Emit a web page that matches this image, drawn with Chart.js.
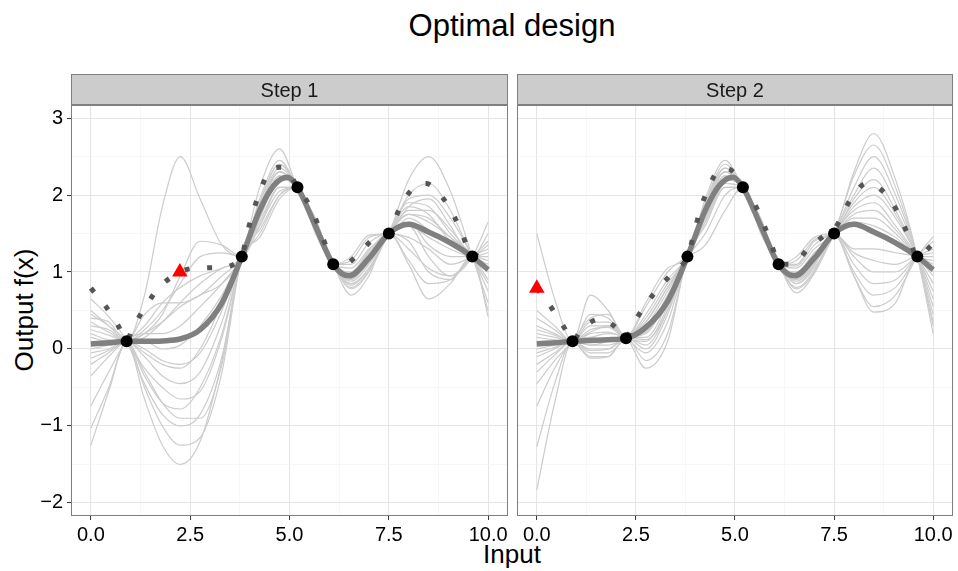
<!DOCTYPE html>
<html>
<head>
<meta charset="utf-8">
<script src="https://cdn.jsdelivr.net/npm/chart.js@4.4.1/dist/chart.umd.min.js"></script>
<style>
  html, body { margin: 0; padding: 0; background: #fff; }
  body { width: 958px; height: 571px; position: relative; overflow: hidden;
         font-family: "Liberation Sans", Arial, sans-serif; color: #000; }
  canvas { position: absolute; top: 70px; }
  #c1 { left: 0; }
  #c2 { left: 500px; }
  .lbl { position: absolute; white-space: nowrap; line-height: 1; }
  #title { top: 10px; left: 312px; width: 400px; text-align: center; font-size: 31px; }
  #xtitle { top: 541px; left: 412px; width: 200px; text-align: center; font-size: 26px; }
  #ytitle { top: 297px; left: -76px; width: 200px; text-align: center; font-size: 26px;
            transform: rotate(-90deg); }
</style>
</head>
<body>
<div class="lbl" id="title">Optimal design</div>
<div class="lbl" id="xtitle">Input</div>
<div class="lbl" id="ytitle">Output f(x)</div>
<canvas id="c1" width="540" height="500"></canvas>
<canvas id="c2" width="480" height="500"></canvas>
<script>
const X_GRID = [0, 0.45, 0.9, 1.35, 1.8, 2.25, 2.75, 3.3, 3.8, 4.25, 4.75, 5.2,
                5.65, 6.1, 6.55, 7.0, 7.5, 8.0, 8.5, 9.05, 9.6, 10];

// Step 1 posterior samples (grey lines)
const SAMPLES_1 = [
  [0.35, 0.22, 0.1, 0.7, 1.85, 2.5, 1.95, 1.35, 1.2, 1.7, 2.2, 2.1, 1.6, 1.1, 0.95, 1.2, 1.5, 1.75, 1.7, 1.45, 1.2, 1.1],
  [0.5, 0.3, 0.1, 0.2, 0.45, 0.95, 1.4, 1.35, 1.2, 1.9, 2.4, 2.1, 1.55, 1.1, 0.85, 1.05, 1.5, 2.0, 2.15, 1.8, 1.2, 0.85],
  [0.15, 0.1, 0.1, 0.25, 0.5, 0.85, 1.2, 1.25, 1.2, 1.6, 2.05, 2.1, 1.65, 1.1, 1.05, 1.3, 1.5, 1.85, 1.95, 1.6, 1.2, 1.5],
  [-0.12, -0.02, 0.1, 0.3, 0.6, 0.8, 0.95, 1.05, 1.2, 1.75, 2.25, 2.1, 1.6, 1.1, 0.7, 0.95, 1.5, 1.45, 1.3, 1.1, 1.2, 1.35],
  [0.25, 0.18, 0.1, 0.2, 0.35, 0.55, 0.7, 0.85, 1.2, 2.1, 2.6, 2.1, 1.7, 1.1, 0.9, 1.15, 1.5, 2.2, 2.5, 2.05, 1.2, 0.6],
  [-0.74, -0.3, 0.1, 0.2, 0.2, 0.3, 0.55, 0.85, 1.2, 1.85, 2.3, 2.1, 1.6, 1.1, 1.15, 1.45, 1.5, 1.6, 1.45, 1.3, 1.2, 1.25],
  [0.05, 0.05, 0.1, 0.1, 0.0, 0.05, 0.3, 0.7, 1.2, 1.65, 2.1, 2.1, 1.55, 1.1, 0.78, 1.0, 1.5, 1.9, 1.85, 1.5, 1.2, 1.0],
  [0.4, 0.35, 0.1, 0.45, 0.6, 0.6, 0.7, 0.95, 1.2, 1.8, 2.3, 2.1, 1.65, 1.1, 1.0, 1.25, 1.5, 1.3, 1.05, 0.95, 1.2, 1.4],
  [-0.05, 0.0, 0.1, -0.05, -0.2, -0.25, 0.0, 0.6, 1.2, 1.5, 2.0, 2.1, 1.55, 1.1, 0.88, 1.1, 1.5, 1.95, 2.0, 1.7, 1.2, 0.75],
  [0.3, 0.25, 0.1, 0.15, 0.35, 0.6, 0.85, 1.05, 1.2, 1.95, 2.45, 2.1, 1.7, 1.1, 0.92, 1.15, 1.5, 1.6, 1.2, 0.95, 1.2, 1.65],
  [-1.25, -0.55, 0.1, -0.65, -1.25, -1.5, -1.2, -0.15, 1.2, 1.45, 1.95, 2.1, 1.5, 1.1, 0.95, 1.2, 1.5, 1.8, 1.8, 1.55, 1.2, 1.0],
  [-1.03, -0.5, 0.1, -0.5, -1.0, -1.25, -1.15, -0.3, 1.2, 1.55, 2.0, 2.1, 1.55, 1.1, 1.0, 1.28, 1.5, 1.15, 0.85, 0.9, 1.2, 1.3],
  [0.65, 0.42, 0.1, -0.45, -0.85, -1.0, -0.85, -0.1, 1.2, 1.7, 2.2, 2.1, 1.6, 1.1, 0.83, 1.05, 1.5, 1.85, 1.75, 1.4, 1.2, 0.5],
  [-0.35, -0.1, 0.1, -0.3, -0.7, -0.9, -0.9, -0.2, 1.2, 1.6, 2.1, 2.1, 1.6, 1.1, 1.1, 1.38, 1.5, 1.1, 0.65, 0.85, 1.2, 1.2],
  [0.2, 0.12, 0.1, -0.35, -0.7, -0.78, -0.5, 0.2, 1.2, 1.85, 2.35, 2.1, 1.65, 1.1, 1.2, 1.48, 1.5, 1.7, 1.55, 1.35, 1.2, 1.05],
  [0.45, 0.3, 0.1, -0.25, -0.5, -0.65, -0.55, 0.15, 1.2, 1.8, 2.3, 2.1, 1.6, 1.1, 0.8, 1.02, 1.5, 1.75, 1.65, 1.45, 1.2, 0.9],
  [-0.2, -0.05, 0.1, -0.1, -0.35, -0.45, -0.3, 0.35, 1.2, 1.75, 2.25, 2.1, 1.62, 1.1, 0.98, 1.22, 1.5, 1.4, 1.0, 0.9, 1.2, 1.15],
  [0.0, 0.05, 0.1, 0.0, -0.15, -0.2, -0.05, 0.5, 1.2, 1.9, 2.4, 2.1, 1.68, 1.1, 0.93, 1.12, 1.5, 1.65, 1.35, 1.2, 1.2, 0.42]
];

// Step 2 posterior samples (grey lines)
const SAMPLES_2 = [
  [1.5, 0.65, 0.1, 0.7, 0.5, 0.15, 0.35, 0.8, 1.2, 1.85, 2.35, 2.1, 1.6, 1.1, 0.95, 1.2, 1.5, 2.3, 2.8, 2.2, 1.2, 0.2],
  [0.5, 0.3, 0.1, 0.45, 0.4, 0.15, 0.1, 0.55, 1.2, 1.9, 2.4, 2.1, 1.65, 1.1, 0.85, 1.05, 1.5, 2.25, 2.65, 2.1, 1.2, 0.3],
  [0.4, 0.25, 0.1, 0.35, 0.35, 0.15, 0.6, 1.05, 1.2, 1.95, 2.45, 2.1, 1.7, 1.1, 1.0, 1.25, 1.5, 2.1, 2.5, 2.0, 1.2, 0.35],
  [0.3, 0.2, 0.1, 0.3, 0.3, 0.15, -0.05, 0.35, 1.2, 1.7, 2.2, 2.1, 1.6, 1.1, 0.73, 0.98, 1.5, 2.0, 2.35, 1.9, 1.2, 0.45],
  [0.25, 0.18, 0.1, 0.25, 0.28, 0.15, 0.25, 0.7, 1.2, 1.8, 2.3, 2.1, 1.62, 1.1, 1.1, 1.4, 1.5, 1.95, 2.2, 1.8, 1.2, 0.55],
  [0.2, 0.15, 0.1, 0.2, 0.22, 0.15, 0.45, 0.9, 1.2, 1.75, 2.25, 2.1, 1.6, 1.1, 0.9, 1.12, 1.5, 1.9, 2.1, 1.75, 1.2, 0.65],
  [0.1, 0.1, 0.1, 0.15, 0.2, 0.15, -0.25, 0.1, 1.2, 1.6, 2.1, 2.1, 1.55, 1.1, 1.05, 1.3, 1.5, 1.85, 2.0, 1.7, 1.2, 0.75],
  [0.05, 0.08, 0.1, 0.1, 0.12, 0.15, 0.15, 0.6, 1.2, 1.85, 2.3, 2.1, 1.65, 1.1, 0.8, 1.02, 1.5, 1.8, 1.9, 1.6, 1.2, 0.85],
  [0.0, 0.05, 0.1, 0.05, 0.05, 0.15, 0.3, 0.75, 1.2, 1.65, 2.15, 2.1, 1.58, 1.1, 0.95, 1.18, 1.5, 1.75, 1.8, 1.55, 1.2, 0.95],
  [-0.05, 0.02, 0.1, 0.0, 0.0, 0.15, -0.15, 0.2, 1.2, 1.75, 2.2, 2.1, 1.6, 1.1, 1.15, 1.42, 1.5, 1.7, 1.7, 1.5, 1.2, 1.05],
  [-0.1, 0.0, 0.1, -0.05, -0.05, 0.15, 0.35, 0.8, 1.2, 1.5, 2.0, 2.1, 1.55, 1.1, 0.88, 1.1, 1.5, 1.65, 1.6, 1.45, 1.2, 1.15],
  [-0.2, -0.05, 0.1, -0.1, -0.1, 0.15, 0.0, 0.45, 1.2, 1.8, 2.25, 2.1, 1.62, 1.1, 1.0, 1.22, 1.5, 1.3, 1.3, 1.25, 1.2, 1.1],
  [-0.3, -0.08, 0.1, -0.12, -0.1, 0.15, 0.05, 0.5, 1.2, 1.7, 2.15, 2.1, 1.6, 1.1, 0.92, 1.15, 1.5, 1.25, 1.15, 1.1, 1.2, 1.2],
  [-0.45, -0.15, 0.1, 0.4, 0.45, 0.15, 0.55, 1.0, 1.2, 1.35, 1.8, 2.1, 1.5, 1.1, 0.78, 1.0, 1.5, 1.2, 1.0, 1.0, 1.2, 1.25],
  [-0.74, -0.25, 0.1, 0.15, 0.1, 0.15, 0.2, 0.65, 1.2, 1.9, 2.35, 2.1, 1.68, 1.1, 1.2, 1.45, 1.5, 1.1, 0.85, 0.9, 1.2, 1.3],
  [-1.27, -0.45, 0.1, 0.05, 0.1, 0.15, 0.12, 0.5, 1.2, 1.75, 2.2, 2.1, 1.6, 1.1, 0.98, 1.2, 1.5, 1.0, 0.7, 0.8, 1.2, 1.4],
  [-1.83, -0.7, 0.1, -0.02, 0.0, 0.15, 0.22, 0.62, 1.2, 1.65, 2.1, 2.1, 1.58, 1.1, 0.85, 1.08, 1.5, 0.95, 0.55, 0.7, 1.2, 1.46],
  [0.15, 0.12, 0.1, 0.22, 0.3, 0.15, 0.4, 0.85, 1.2, 1.8, 2.3, 2.1, 1.63, 1.1, 1.08, 1.35, 1.5, 0.95, 0.48, 0.6, 1.2, 1.0]
];

// posterior mean (thick grey line)
const MEAN_X = [0, 0.45, 0.9, 1.35, 1.8, 2.25, 2.75, 3.3, 3.8, 4.25, 4.6, 4.95, 5.2,
                5.65, 6.1, 6.5, 7.0, 7.5, 8.0, 8.5, 9.05, 9.6, 10];
const MEAN_1 = [0.065, 0.08, 0.1, 0.1, 0.105, 0.13, 0.25, 0.6, 1.2, 1.8, 2.12, 2.23, 2.1,
                1.6, 1.1, 0.95, 1.18, 1.5, 1.62, 1.52, 1.38, 1.2, 1.03];
const MEAN_2 = [0.065, 0.08, 0.1, 0.11, 0.12, 0.14, 0.28, 0.62, 1.2, 1.8, 2.12, 2.23, 2.1,
                1.6, 1.1, 0.95, 1.18, 1.5, 1.62, 1.52, 1.38, 1.2, 1.03];

// dotted curve
const DOT_X_1 = [0, 0.38, 0.69, 0.9, 1.05, 1.34, 1.67, 2.24, 2.64, 3.21, 3.8, 3.91, 4.06, 4.23, 4.47, 4.75, 4.93,
                 5.2, 5.53, 5.75, 5.95, 6.1, 6.28, 6.73, 7.09, 7.5, 7.82, 8.16, 8.45, 8.68, 9.02, 9.28, 9.49, 9.6, 9.87, 10];
const DOT_Y_1 = [0.79, 0.55, 0.3, 0.1, 0.27, 0.52, 0.77, 1.0, 1.05, 1.06, 1.2, 1.45, 1.74, 2.01, 2.29, 2.36, 2.33,
                 2.1, 1.84, 1.57, 1.29, 1.1, 1.07, 1.23, 1.42, 1.52, 1.88, 2.11, 2.15, 2.07, 1.84, 1.58, 1.31, 1.2, 1.34, 1.38];
const DOT_X_2 = [0, 0.39, 0.7, 0.9, 1.12, 1.6, 2.08, 2.25, 2.41, 2.71, 3.07, 3.45, 3.8, 3.97, 4.12, 4.31, 4.59, 4.8,
                 5.03, 5.2, 5.35, 5.62, 5.83, 6.02, 6.1, 6.44, 6.86, 7.3, 7.5, 7.67, 7.92, 8.32, 8.81, 9.11, 9.36, 9.6, 10];
const DOT_Y_2 = [0.79, 0.52, 0.27, 0.1, 0.25, 0.39, 0.24, 0.14, 0.3, 0.55, 0.79, 1.0, 1.2, 1.51, 1.8, 2.07, 2.32, 2.34,
                 2.26, 2.1, 2.01, 1.75, 1.48, 1.21, 1.1, 1.1, 1.31, 1.49, 1.55, 1.7, 1.95, 2.15, 2.01, 1.77, 1.49, 1.2, 1.37];

// observed design points
const OBS_X_1 = [0.9, 3.8, 5.2, 6.1, 7.5, 9.6];
const OBS_Y_1 = [0.1, 1.2, 2.1, 1.1, 1.5, 1.2];
const OBS_X_2 = [0.9, 2.25, 3.8, 5.2, 6.1, 7.5, 9.6];
const OBS_Y_2 = [0.1, 0.14, 1.2, 2.1, 1.1, 1.5, 1.2];

// next proposed point (red triangle)
const NEXT_X_1 = [2.24];
const NEXT_Y_1 = [1.0];
const NEXT_X_2 = [0];
const NEXT_Y_2 = [0.79];

const STRIP_LABELS = ["Step 1", "Step 2"];
const X_MAJOR = [0, 2.5, 5, 7.5, 10];
const X_MINOR = [1.25, 3.75, 6.25, 8.75];
const X_LABELS = ["0.0", "2.5", "5.0", "7.5", "10.0"];
const Y_MAJOR = [-2, -1, 0, 1, 2, 3];
const Y_MINOR = [-1.5, -0.5, 0.5, 1.5, 2.5];
const Y_LABELS = ["\u22122", "\u22121", "0", "1", "2", "3"];

const FONT = "'Liberation Sans', Arial, sans-serif";
const pts = (xs, ys) => xs.map((x, i) => ({ x, y: ys[i] }));

// strip on top of the panel and the grey frame round it
const panelFrame = {
  id: "panelFrame",
  afterDraw(chart, args, opts) {
    const { ctx, chartArea: a } = chart;
    const l = Math.round(a.left), w = Math.round(a.right - a.left);
    const t = Math.round(a.top), h = Math.round(a.bottom - a.top);
    ctx.save();
    ctx.fillStyle = "#CCCCCC";
    ctx.fillRect(l, t - 31, w, 31);
    ctx.strokeStyle = "#7F7F7F";
    ctx.lineWidth = 1;
    ctx.strokeRect(l + 0.5, t - 30.5, w - 1, 30);
    ctx.strokeRect(l + 0.5, t + 0.5, w - 1, h - 1);
    ctx.fillStyle = "#1A1A1A";
    ctx.font = "20px " + FONT;
    ctx.textAlign = "center";
    ctx.textBaseline = "middle";
    ctx.fillText(opts.label, l + w / 2, t - 14);
    ctx.restore();
  }
};

function gridColor(major, minor) {
  return (c) => {
    const v = c.tick ? c.tick.value : null;
    if (major.includes(v)) return "#E5E5E5";
    if (minor.includes(v)) return "#F2F2F2";
    return "rgba(0,0,0,0)";
  };
}

function makeChart(id, step, samples, mean, dotX, dotY, obsX, obsY, nextX, nextY, yWidth, rightPad, showY) {
  const datasets = [];
  samples.forEach((ys) => {
    datasets.push({
      data: pts(X_GRID, ys), borderColor: "#CCCCCC", borderWidth: 1.2,
      pointRadius: 0, cubicInterpolationMode: "monotone", order: 5
    });
  });
  datasets.push({
    data: pts(MEAN_X, mean), borderColor: "#808080", borderWidth: 5.5,
    pointRadius: 0, cubicInterpolationMode: "monotone", order: 4
  });
  datasets.push({
    data: pts(dotX, dotY), borderColor: "#555555", borderWidth: 5,
    borderDash: [5, 17.7], borderCapStyle: "butt",
    pointRadius: 0, cubicInterpolationMode: "monotone", order: 3
  });
  datasets.push({
    data: pts(obsX, obsY), showLine: false, pointRadius: 6,
    pointBackgroundColor: "#000", pointBorderWidth: 0, order: 2
  });
  datasets.push({
    data: pts(nextX, nextY), showLine: false, pointRadius: 9, pointStyle: "triangle",
    pointBackgroundColor: "#FF0000", pointBorderWidth: 0, order: 1
  });

  return new Chart(document.getElementById(id), {
    type: "line",
    data: { datasets },
    plugins: [panelFrame],
    options: {
      responsive: false,
      animation: false,
      events: [],
      layout: { padding: { top: 35, right: rightPad, left: 0, bottom: 0 } },
      plugins: {
        legend: { display: false },
        tooltip: { enabled: false },
        panelFrame: { label: STRIP_LABELS[step] }
      },
      scales: {
        x: {
          type: "linear", min: -0.5, max: 10.5,
          afterBuildTicks: (s) => { s.ticks = X_MAJOR.concat(X_MINOR).sort((a, b) => a - b).map((v) => ({ value: v })); },
          afterFit: (s) => { s.height = 54; },
          border: { display: false },
          grid: {
            color: gridColor(X_MAJOR, X_MINOR),
            lineWidth: (c) => (c.tick && X_MAJOR.includes(c.tick.value) ? 1.1 : 0.6),
            tickColor: (c) => (c.tick && X_MAJOR.includes(c.tick.value) ? "#333333" : "rgba(0,0,0,0)"),
            tickLength: 4, tickWidth: 1
          },
          ticks: {
            autoSkip: false, maxRotation: 0, padding: 3, color: "#000",
            font: { family: FONT, size: 20 },
            callback: (v) => { const i = X_MAJOR.indexOf(v); return i >= 0 ? X_LABELS[i] : ""; }
          }
        },
        y: {
          type: "linear", min: -2.17, max: 3.17,
          afterBuildTicks: (s) => { s.ticks = Y_MAJOR.concat(Y_MINOR).sort((a, b) => a - b).map((v) => ({ value: v })); },
          afterFit: (s) => { s.width = yWidth; },
          border: { display: false },
          grid: {
            color: gridColor(Y_MAJOR, Y_MINOR),
            lineWidth: (c) => (c.tick && Y_MAJOR.includes(c.tick.value) ? 1.1 : 0.6),
            drawTicks: showY,
            tickColor: (c) => (c.tick && Y_MAJOR.includes(c.tick.value) ? "#333333" : "rgba(0,0,0,0)"),
            tickLength: 4, tickWidth: 1
          },
          ticks: {
            display: showY, autoSkip: false, padding: 4, color: "#000",
            font: { family: FONT, size: 20 },
            callback: (v) => { const i = Y_MAJOR.indexOf(v); return i >= 0 ? Y_LABELS[i] : ""; }
          }
        }
      }
    }
  });
}

makeChart("c1", 0, SAMPLES_1, MEAN_1, DOT_X_1, DOT_Y_1, OBS_X_1, OBS_Y_1, NEXT_X_1, NEXT_Y_1, 71, 32, true);
makeChart("c2", 1, SAMPLES_2, MEAN_2, DOT_X_2, DOT_Y_2, OBS_X_2, OBS_Y_2, NEXT_X_2, NEXT_Y_2, 17, 27, false);
</script>
</body>
</html>
